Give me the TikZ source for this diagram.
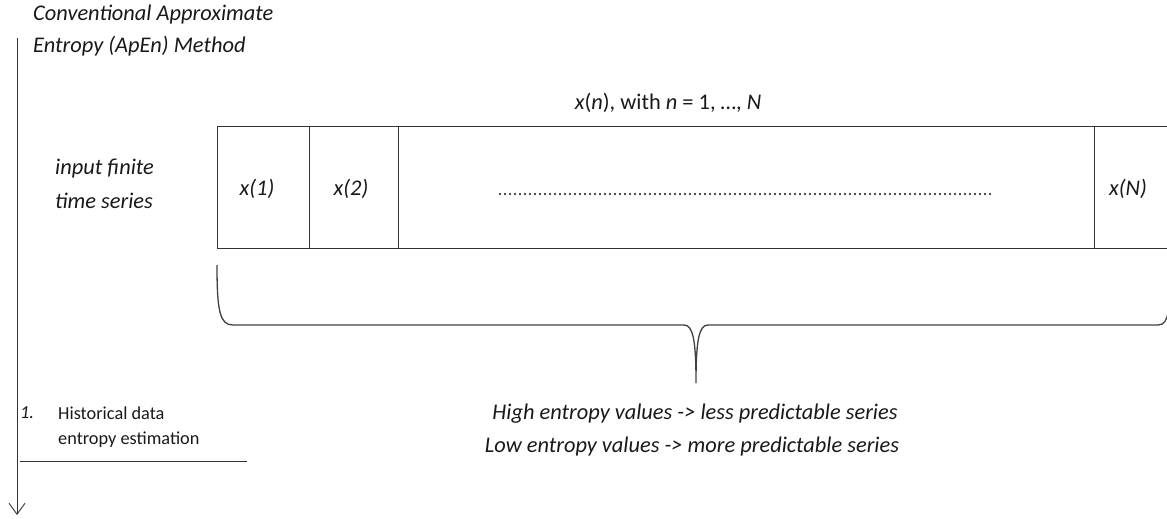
\documentclass[tikz,border=0pt]{standalone}
\usepackage{fontspec}
\setmainfont{Carlito}
\usetikzlibrary{arrows.meta}
\begin{document}
\begin{tikzpicture}[x=1pt,y=-1pt,
  txt/.style={font=\fontsize{22.4}{26}\selectfont\itshape, inner sep=0pt, text=black!90},
  small/.style={font=\fontsize{18.3}{21}\selectfont, inner sep=0pt, text=black!90},
  cell/.style={draw=black!80, line width=1pt},
  ln/.style={draw=black!80, line width=0.9pt}]
\useasboundingbox (0,0) rectangle (1167,519);
\clip (0,0) rectangle (1167,519);
% title
\node[txt, anchor=west, align=left] (title1) at (33,15) {Conventional Approximate};
\node[txt, anchor=west, align=left] (title2) at (33,46) {Entropy (ApEn) Method};
% main vertical arrow
\coordinate (vtop) at (17,38);
\coordinate (vbot) at (17,515);
\draw[ln, -{Straight Barb[length=11pt,width=16pt]}] (vtop) -- (vbot);
% header
\node[txt, font=\fontsize{22.4}{26}\selectfont] (hdr) at (668,103) {\textit{x}(\textit{n}), with \textit{n} = 1, …, \textit{N}};
% input label
\node[txt, anchor=west] (in1) at (55,169) {input finite};
\node[txt, anchor=west] (in2) at (55,201) {time series};
% cells
\draw[cell] (217,126) rectangle (1190,248);
\draw[cell] (309,126) -- (309,248);
\draw[cell] (398,126) -- (398,248);
\draw[cell] (1094,126) -- (1094,248);
\node[txt] (x1) at (257,189) {x(1)};
\node[txt] (x2) at (351,189) {x(2)};
\node[txt] (xN) at (1128,189) {x(N)};
\coordinate (dl) at (500,194);
\coordinate (dr) at (993,194);
\draw[black!95, line width=2.2pt, line cap=round, dash pattern=on 0pt off 5pt] (dl) -- (dr);
% brace
\coordinate (bl) at (217,265);
\coordinate (btip) at (696,383);
\coordinate (br) at (1168,312);
\draw[black!75, line width=1.3pt] (bl) .. controls (217,312) and (220,325) .. (233,325)
  -- (684,325) .. controls (693,325) and (696,340) .. (btip)
  .. controls (696,340) and (699,325) .. (708,325) -- (1158,325)
  .. controls (1164,325) and (1167,320) .. (br);
% conclusions
\node[txt] (hi) at (695,414) {High entropy values -> less predictable series};
\node[txt] (lo) at (692,447) {Low entropy values -> more predictable series};
% step 1
\node[small, anchor=west, font=\fontsize{18.3}{21}\selectfont\itshape] (num) at (20,413) {1.};
\node[small, anchor=west] (h1) at (58,413) {Historical data};
\node[small, anchor=west] (h2) at (58,440) {entropy estimation};
\coordinate (ul) at (20,461);
\coordinate (ur) at (247,461);
\draw[ln] (ul) -- (ur);
\end{tikzpicture}
\end{document}
